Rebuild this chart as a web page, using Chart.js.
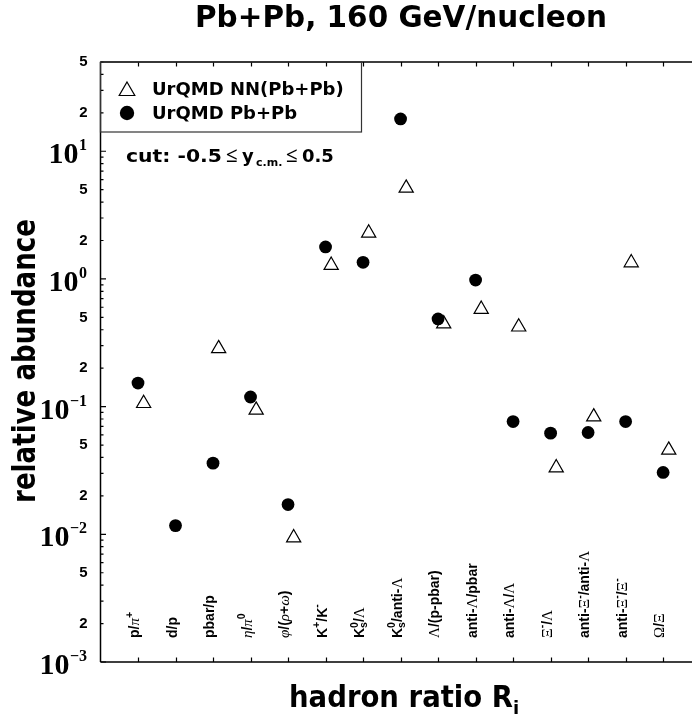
<!DOCTYPE html>
<html>
<head>
<meta charset="utf-8">
<script src="https://cdn.jsdelivr.net/npm/chart.js@4.4.1/dist/chart.umd.min.js"></script>
<style>
  html, body { margin: 0; padding: 0; background: #fff; }
</style>
</head>
<body>
<canvas id="chart" width="692" height="719"></canvas>
<script>
// hadron ratios
const categories = ['p/π^+', 'd/p', 'pbar/p', 'η/π^0', 'φ/(ρ+ω)', 'K^+/K^-', 'K^0_s/Λ', 'K^0_s/anti-Λ',
  'Λ/(p-pbar)', 'anti-Λ/pbar', 'anti-Λ/Λ', 'Ξ^-/Λ', 'anti-Ξ^-/anti-Λ', 'anti-Ξ^-/Ξ^-', 'Ω/Ξ'];
const nnValues = [0.106, null, 0.285, 0.094, 0.0094, 1.28, 2.29, 5.15, 0.445, 0.579, 0.421, 0.0332, 0.0832, 1.34, 0.0457];
const pbValues = [0.153, 0.0117, 0.0361, 0.119, 0.0171, 1.78, 1.35, 17.9, 0.486, 0.98, 0.0764, 0.062, 0.0627, 0.0764, 0.0305];
const seriesNames = ['UrQMD NN(Pb+Pb)', 'UrQMD Pb+Pb'];
const decades = [-3, -2, -1, 0, 1];
const minorLabels = [2, 5];

const SANS = '"DejaVu Sans"';
const dodge = 0.15; // triangles sit a bit right of the circles

function toPoints(vals, shift) {
  const pts = [];
  vals.forEach((v, i) => { if (v != null) pts.push({ x: i + 1 + shift, y: v }); });
  return pts;
}

function mantissa(v) {
  const e = Math.floor(Math.log10(v) + 1e-9);
  return { m: Math.round(v / Math.pow(10, e)), e: e };
}

// draw text squeezed/stretched to a given width
function fitText(ctx, text, x, y, w) {
  const nat = ctx.measureText(text).width;
  ctx.save();
  ctx.translate(x, y);
  ctx.scale(w / nat, 1);
  ctx.textAlign = 'left';
  ctx.fillText(text, 0, 0);
  ctx.restore();
}

// rotated category label with ^sup and _sub, greek letters in serif
function drawLabel(ctx, s) {
  const segs = [];
  for (let i = 0; i < s.length; i++) {
    const c = s[i];
    if (c === '^' || c === '_') { segs.push({ t: s[++i], pos: c === '^' ? 'sup' : 'sub' }); }
    else segs.push({ t: c, pos: 'n' });
  }
  const fontFor = (t, small) => {
    if (/[\u0370-\u03FF]/.test(t)) {
      return (t === t.toLowerCase() ? 'italic ' : '') + (small ? 10.5 : 15) + 'px "Liberation Serif"';
    }
    return 'bold ' + (small ? 10.5 : 14) + 'px "Liberation Sans"';
  };
  let x = 0;
  for (let i = 0; i < segs.length; i++) {
    const sg = segs[i];
    if (sg.pos === 'n') {
      ctx.font = fontFor(sg.t, false);
      ctx.fillText(sg.t, x, 0);
      x += ctx.measureText(sg.t).width;
    } else {
      let w = 0;
      ctx.font = fontFor(sg.t, true);
      ctx.fillText(sg.t, x, sg.pos === 'sup' ? -6.5 : 3);
      w = ctx.measureText(sg.t).width;
      const nx = segs[i + 1];
      if (sg.pos === 'sup' && nx && nx.pos === 'sub') {
        ctx.font = fontFor(nx.t, true);
        ctx.fillText(nx.t, x, 3);
        w = Math.max(w, ctx.measureText(nx.t).width);
        i++;
      }
      x += w;
    }
  }
}

const decor = {
  id: 'decor',
  afterDraw(chart) {
    const ctx = chart.ctx;
    const a = chart.chartArea;
    const xs = chart.scales.x, ys = chart.scales.y;
    ctx.save();
    ctx.fillStyle = '#000';
    ctx.strokeStyle = '#000';

    // frame: left, top, bottom
    ctx.lineWidth = 1.5;
    ctx.beginPath();
    ctx.moveTo(a.left, a.top); ctx.lineTo(a.right, a.top);
    ctx.moveTo(a.left, a.top); ctx.lineTo(a.left, a.bottom);
    ctx.moveTo(a.left, a.bottom); ctx.lineTo(a.right, a.bottom);
    ctx.stroke();

    // inward ticks
    ctx.lineWidth = 1.2;
    ctx.beginPath();
    categories.forEach((c, i) => {
      const px = Math.round(xs.getPixelForValue(i + 1)) + 0.5;
      ctx.moveTo(px, a.bottom); ctx.lineTo(px, a.bottom - 4.5);
      ctx.moveTo(px, a.top); ctx.lineTo(px, a.top + 4.5);
    });
    ys.ticks.forEach(t => {
      const py = ys.getPixelForValue(t.value);
      const len = mantissa(t.value).m === 1 ? 5.5 : 3;
      ctx.moveTo(a.left, py); ctx.lineTo(a.left + len, py);
    });
    ctx.stroke();

    // decade labels 10^n
    ys.ticks.forEach(t => {
      const mm = mantissa(t.value);
      if (mm.m !== 1) return;
      const py = ys.getPixelForValue(t.value);
      const sup = mm.e < 0 ? '\u2212' + (-mm.e) : String(mm.e);
      ctx.textAlign = 'right';
      ctx.textBaseline = 'alphabetic';
      ctx.font = 'bold 16px "Liberation Serif"';
      ctx.fillText(sup, 87, py - 1);
      const sw = ctx.measureText(sup).width;
      ctx.font = 'bold 30px "Liberation Serif"';
      ctx.fillText('10', 87 - sw - 0.5, py + 12);
    });

    // category labels
    ctx.textAlign = 'left';
    ctx.textBaseline = 'alphabetic';
    categories.forEach((c, i) => {
      const px = xs.getPixelForValue(i + 1);
      ctx.save();
      ctx.translate(px + 1, 638);
      ctx.rotate(-Math.PI / 2);
      drawLabel(ctx, c);
      ctx.restore();
    });

    // title
    ctx.font = 'bold 30px ' + SANS;
    fitText(ctx, 'Pb+Pb, 160 GeV/nucleon', 195, 27, 412);

    // axis titles
    ctx.font = 'bold 31px ' + SANS;
    fitText(ctx, 'hadron ratio R', 289, 707, 224);
    ctx.font = 'bold 18px ' + SANS;
    ctx.fillText('i', 513, 714);

    ctx.save();
    ctx.translate(35, 503);
    ctx.rotate(-Math.PI / 2);
    ctx.font = 'bold 32px ' + SANS;
    fitText(ctx, 'relative abundance', 0, 0, 284);
    ctx.restore();

    // legend box
    ctx.lineWidth = 1.2;
    ctx.strokeStyle = '#333';
    ctx.strokeRect(a.left, a.top, 261, 70);
    const ds = chart.data.datasets;
    ctx.strokeStyle = '#000';
    ctx.fillStyle = 'rgba(0,0,0,0)';
    Chart.helpers.drawPoint(ctx, { pointStyle: 'triangle', radius: 9, borderWidth: 1.2, rotation: 0 }, 127, 91);
    ctx.fillStyle = '#000';
    ctx.beginPath(); ctx.arc(127, 113, 7.2, 0, Math.PI * 2); ctx.fill();
    ctx.font = 'bold 18px ' + SANS;
    ctx.fillText(ds[0].label, 152, 95);
    ctx.fillText(ds[1].label, 152, 119);

    // cut annotation
    ctx.font = 'bold 18px ' + SANS;
    fitText(ctx, 'cut: -0.5', 126, 162, 96);
    const segs = [
      ['\u2264', 'bold 21px "Liberation Serif"', 226, 162],
      ['y', 'bold 18px ' + SANS, 242, 162],
      ['c.m.', 'bold 11px ' + SANS, 256, 166],
      ['\u2264', 'bold 21px "Liberation Serif"', 286, 162],
      ['0.5', 'bold 18px ' + SANS, 302, 162]
    ];
    segs.forEach(s => { ctx.font = s[1]; ctx.fillText(s[0], s[2], s[3]); });

    ctx.restore();
  }
};

new Chart(document.getElementById('chart'), {
  type: 'scatter',
  data: {
    datasets: [
      {
        label: seriesNames[0],
        data: toPoints(nnValues, dodge),
        pointStyle: 'triangle',
        pointRadius: 8.2,
        pointHoverRadius: 8.2,
        backgroundColor: 'rgba(0,0,0,0)',
        borderColor: '#000',
        borderWidth: 1.2
      },
      {
        label: seriesNames[1],
        data: toPoints(pbValues, 0),
        pointStyle: 'circle',
        pointRadius: 6.4,
        pointHoverRadius: 6.4,
        backgroundColor: '#000',
        borderColor: '#000',
        borderWidth: 0
      }
    ]
  },
  options: {
    responsive: false,
    animation: false,
    devicePixelRatio: 1,
    layout: { padding: { top: 62, bottom: 57, left: 0, right: 0 }, autoPadding: false },
    plugins: { legend: { display: false }, title: { display: false }, tooltip: { enabled: false } },
    scales: {
      x: {
        type: 'linear',
        min: 0,
        max: 15.77,
        display: false
      },
      y: {
        type: 'logarithmic',
        min: 0.001,
        max: 50,
        afterFit: s => { s.width = 100.5; },
        afterBuildTicks: s => {
          const t = [];
          decades.forEach(e => {
            for (let m = 1; m <= 9; m++) {
              const v = Number((m * Math.pow(10, e)).toPrecision(3));
              if (v <= s.max) t.push({ value: v });
            }
          });
          s.ticks = t;
        },
        grid: { display: false, drawTicks: false },
        border: { display: false },
        ticks: {
          autoSkip: false,
          padding: 13,
          color: '#000',
          font: { family: 'Liberation Sans', weight: 'bold', size: 15 },
          callback: v => (minorLabels.includes(mantissa(v).m) ? String(mantissa(v).m) : '')
        }
      }
    }
  },
  plugins: [decor]
});
</script>
</body>
</html>
